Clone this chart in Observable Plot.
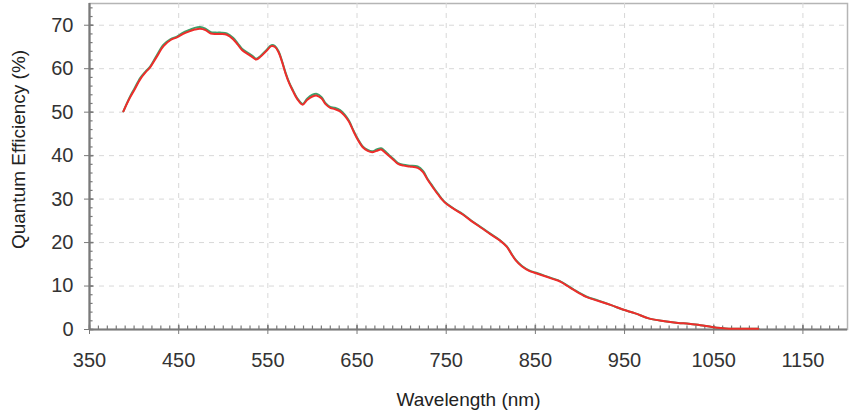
<!DOCTYPE html>
<html><head><meta charset="utf-8">
<script src="https://cdn.jsdelivr.net/npm/d3@7"></script>
<script src="https://cdn.jsdelivr.net/npm/@observablehq/plot@0.6"></script>
<style>body{margin:0;background:#fff}</style>
</head><body><div id="chart"></div>
<script>
const wavelength = [388,395,400,407,413,418,425,433,441,448,455,462,468,474,480,486,492,498,504,511,516,521,528,533,537,542,548,554,558,562,566,570,574,578,583,589,594,600,605,610,615,620,625,631,636,641,646,651,657,662,667,672,677,681,686,691,696,702,709,718,724,729,735,741,748,758,769,780,790,799,810,818,823,828,835,843,850,860,870,877,883,893,907,920,935,948,962,978,995,1010,1022,1035,1048,1058,1067,1080,1090,1100];
const qeRed = [50.2,53.2,55.0,57.6,59.2,60.3,62.6,65.2,66.6,67.2,68.0,68.6,69.0,69.2,68.9,68.1,68.0,68.0,67.8,66.8,65.6,64.3,63.3,62.6,62.1,62.8,64.0,65.2,65.0,63.8,61.5,58.8,56.6,54.9,53.0,51.7,52.8,53.6,53.8,53.2,51.8,51.0,50.7,50.2,49.2,47.8,45.6,43.6,41.8,41.1,40.8,41.1,41.4,40.8,39.9,39.0,38.1,37.7,37.5,37.2,36.2,34.5,32.7,31.0,29.3,27.8,26.4,24.7,23.3,22.0,20.5,19.0,17.4,15.9,14.5,13.5,13.0,12.3,11.6,11.1,10.4,9.1,7.5,6.6,5.6,4.6,3.7,2.5,1.9,1.5,1.35,1.0,0.6,0.35,0.2,0.15,0.15,0.2];
const qeGreen = [50.2,53.4,55.3,57.9,59.4,60.5,62.9,65.5,66.8,67.4,68.3,68.9,69.4,69.6,69.2,68.4,68.3,68.3,68.1,67.1,65.9,64.6,63.6,62.9,62.3,63.0,64.2,65.4,65.2,64.0,61.7,59.0,56.8,55.1,53.2,51.9,53.1,54.0,54.2,53.5,52.0,51.2,51.0,50.5,49.5,48.0,45.8,43.8,42.0,41.3,41.0,41.4,41.7,41.1,40.1,39.2,38.3,37.9,37.7,37.5,36.5,34.7,32.9,31.2,29.4,27.9,26.5,24.8,23.4,22.1,20.6,19.1,17.5,16.0,14.6,13.6,13.1,12.4,11.7,11.2,10.5,9.2,7.6,6.7,5.6,4.6,3.7,2.5,1.9,1.5,1.35,1.0,0.6,0.35,0.2,0.15,0.15,0.2];
const xTicks = [350,450,550,650,750,850,950,1050,1150];
const yTicks = [0,10,20,30,40,50,60,70];
const xMinor = d3.range(350, 1200, 10);
const yMinor = d3.range(0, 76, 2);
const xTitle = "Wavelength (nm)";
const yTitle = "Quantum Efficiency (%)";

const red = wavelength.map((w, i) => ({w, v: qeRed[i]}));
const green = wavelength.map((w, i) => ({w, v: qeGreen[i]}));
const axisColor = "#7a7a7a";

const chart = Plot.plot({
  width: 851, height: 415,
  marginLeft: 89, marginRight: 4, marginTop: 3, marginBottom: 86,
  style: {fontFamily: "'Liberation Sans', Arial, sans-serif", fontSize: "20px", color: "#333", background: "#fff"},
  x: {domain: [350, 1200], axis: null},
  y: {domain: [0, 75], axis: null},
  marks: [
    Plot.frame({stroke: "#b5b5b5", strokeWidth: 1.5}),
    Plot.ruleX(xTicks.slice(1), {stroke: "#d8d8d8", strokeDasharray: "5,5", strokeWidth: 1}),
    Plot.ruleY(yTicks.slice(1), {stroke: "#d8d8d8", strokeDasharray: "5,5", strokeWidth: 1}),
    Plot.ruleX(xMinor, {y1: 0, y2: 0.8, stroke: axisColor, strokeWidth: 1.2}),
    Plot.ruleY(yMinor, {x1: 350, x2: 354, stroke: axisColor, strokeWidth: 1.2}),
    Plot.ruleX(xTicks, {y1: 0, y2: 1.0, stroke: axisColor, strokeWidth: 1.5}),
    Plot.ruleY(yTicks, {x1: 350, x2: 355, stroke: axisColor, strokeWidth: 1.5}),
    Plot.axisX({ticks: xTicks, tickSize: 5, tickPadding: 18, stroke: axisColor, fontSize: 20, tickFormat: d => String(d), label: null}),
    Plot.axisY({ticks: yTicks, tickSize: 5, tickPadding: 11, stroke: axisColor, fontSize: 20, tickFormat: d => String(d), label: null}),
    Plot.ruleY([0], {stroke: axisColor, strokeWidth: 2.2}),
    Plot.ruleX([350], {stroke: axisColor, strokeWidth: 2.2}),
    Plot.line(green, {x: "w", y: "v", stroke: "#3fa06a", strokeWidth: 2, curve: "catmull-rom"}),
    Plot.line(red, {x: "w", y: "v", stroke: "#ee2d2b", strokeWidth: 2, curve: "catmull-rom"}),
    Plot.text([xTitle], {frameAnchor: "bottom", dy: 76, text: d => d, fontSize: 19, fill: "#222"}),
    Plot.text([yTitle], {frameAnchor: "left", dx: -71, dy: -17, rotate: -90, textAnchor: "middle", text: d => d, fontSize: 19, fill: "#222"})
  ]
});
document.getElementById("chart").append(chart);
</script></body></html>
